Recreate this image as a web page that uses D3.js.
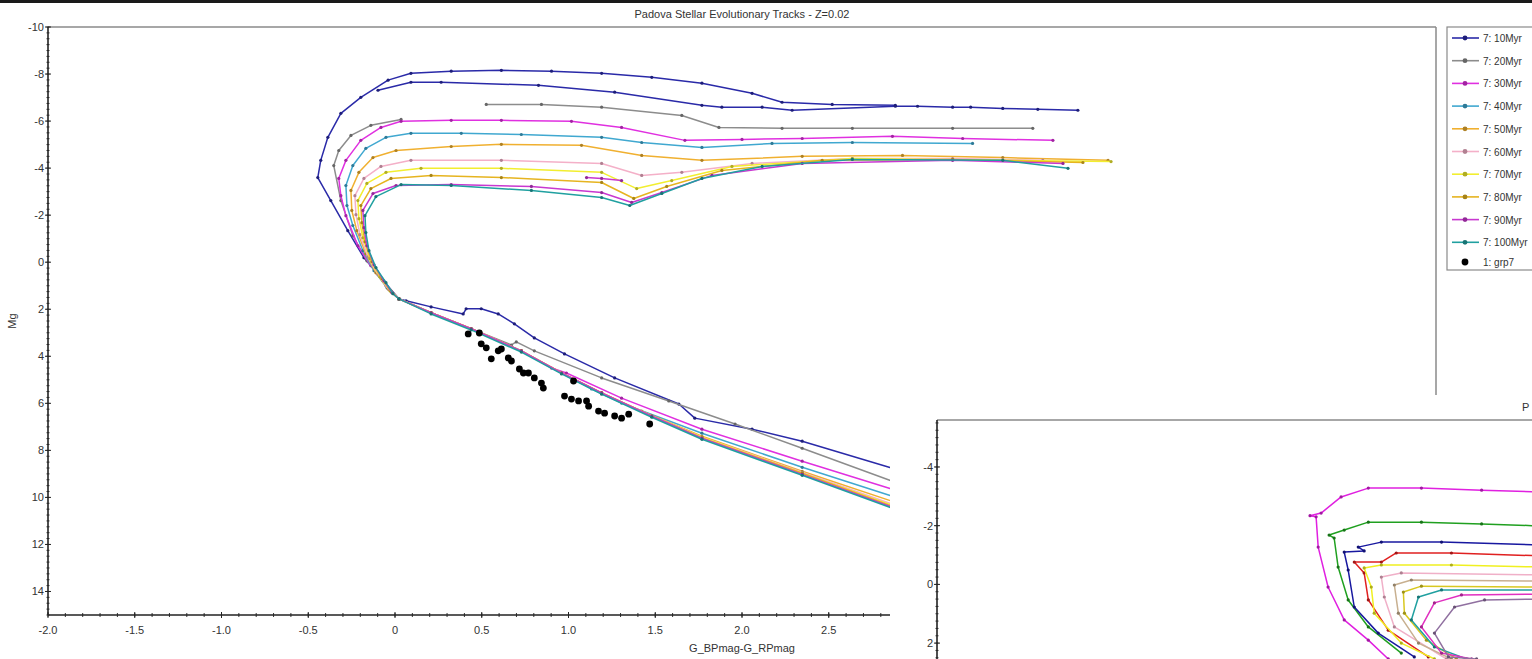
<!DOCTYPE html>
<html><head><meta charset="utf-8">
<script src="https://cdn.jsdelivr.net/npm/d3@7"></script>
<style>
body{margin:0;background:#fff;}
text{font-family:Arial,"Liberation Sans",sans-serif;fill:#333;}
</style>
</head><body>
<svg id="c" width="1532" height="659"></svg>
<script>
// ---------- DATA (main chart: G_BP-G_RP vs Mg) ----------
const seriesNames = ["7: 10Myr","7: 20Myr","7: 30Myr","7: 40Myr","7: 50Myr","7: 60Myr","7: 70Myr","7: 80Myr","7: 90Myr","7: 100Myr"];
const seriesColors = ["#2a2aa8","#8c8c8c","#e030e0","#40a8d0","#f0b030","#f4b0c8","#f2ee30","#e6b420","#c838d0","#20a0a0"];

const track10 = [[3.214,9.40],[2.867,8.76],[2.347,7.61],[2.058,7.10],[1.728,6.63],[1.636,6.03],[1.266,4.92],[0.977,3.90],[0.803,3.22],[0.688,2.62],[0.595,2.20],[0.497,1.98],[0.410,1.98],[0.393,2.20],[0.208,1.90],[0.064,1.64],[0.023,1.56],
 [-0.081,0.66],[-0.179,-0.19],[-0.272,-1.34],[-0.370,-2.62],[-0.445,-3.60],[-0.428,-4.33],[-0.387,-5.31],[-0.312,-6.33],[-0.197,-7.01],[-0.040,-7.74],[0.092,-8.03],[0.324,-8.12],[0.613,-8.16],[0.902,-8.12],[1.191,-8.03],[1.480,-7.86],[1.769,-7.61],[2.058,-7.18],[2.231,-6.80],[2.520,-6.71],[2.884,-6.67],
 null,
 [-0.098,-7.31],[0.092,-7.65],[0.266,-7.65],[0.827,-7.52],[1.266,-7.23],[1.769,-6.67],[1.884,-6.59],[2.116,-6.59],[2.289,-6.46],[2.884,-6.63],[3.012,-6.63],[3.214,-6.59],[3.318,-6.59],[3.503,-6.54],[3.705,-6.50],[3.936,-6.46]];

const track20 = [[3.214,10.17],[2.867,9.31],[2.347,7.91],[1.960,6.88],[1.578,5.90],[1.191,4.92],[0.803,3.77],[0.699,3.39],[0.671,3.52],[0.439,2.83],[0.208,2.15],[0.023,1.56],
 [-0.069,0.79],[-0.162,-0.06],[-0.243,-1.13],[-0.312,-2.62],[-0.353,-4.11],[-0.324,-4.75],[-0.254,-5.39],[-0.139,-5.82],[0.035,-6.07],
 null,
 [0.526,-6.71],[0.844,-6.71],[1.191,-6.59],[1.653,-6.24],[1.867,-5.73],[2.231,-5.69],[2.636,-5.69],[3.214,-5.69],[3.676,-5.69]];

const track30 = [[3.214,10.51],[2.867,9.65],[2.347,8.46],[1.769,7.10],[1.306,5.78],[0.988,4.71],[0.902,4.50],[0.728,3.77],[0.439,2.83],[0.208,2.15],[0.023,1.56],
 [-0.052,1.00],[-0.139,0.15],[-0.214,-0.70],[-0.283,-1.98],[-0.312,-2.83],[-0.324,-3.56],[-0.283,-4.33],[-0.197,-5.18],[-0.081,-5.73],[0.035,-5.99],[0.324,-6.03],[0.613,-6.03],[1.017,-5.99],[1.306,-5.73],[1.671,-5.18],[2.000,-5.22],[2.347,-5.26],[2.867,-5.35],[3.272,-5.26],[3.792,-5.18]];

const track40 = [[3.214,10.68],[2.867,9.95],[2.347,8.72],[1.769,7.27],[1.306,5.99],[1.133,5.39],[0.960,4.71],[0.728,3.77],[0.439,2.83],[0.208,2.15],[0.023,1.56],
 [-0.046,1.09],[-0.121,0.36],[-0.185,-0.49],[-0.243,-1.56],[-0.277,-2.41],[-0.283,-3.26],[-0.243,-4.11],[-0.168,-4.84],[-0.052,-5.31],[0.092,-5.48],[0.382,-5.48],[0.728,-5.43],[1.191,-5.31],[1.422,-5.09],[1.769,-4.88],[2.173,-5.05],[2.636,-5.09],[3.329,-5.05]];

const track50 = [[3.214,10.81],[2.867,10.17],[2.347,8.89],[1.769,7.40],[1.422,6.33],[1.191,5.56],[0.960,4.71],[0.728,3.77],[0.439,2.83],[0.208,2.15],[0.023,1.56],
 [-0.040,1.13],[-0.110,0.45],[-0.168,-0.36],[-0.220,-1.34],[-0.249,-2.20],[-0.254,-3.05],[-0.208,-3.82],[-0.127,-4.45],[0.006,-4.75],[0.324,-4.92],[0.613,-5.01],[1.075,-4.97],[1.422,-4.54],[1.769,-4.33],[2.347,-4.50],[2.925,-4.54],[3.503,-4.45],[4.110,-4.33]];

const track60 = [[3.214,10.93],[2.867,10.29],[2.347,8.93],[1.769,7.44],[1.480,6.54],[1.191,5.56],[0.960,4.71],[0.728,3.77],[0.439,2.83],[0.208,2.15],[0.023,1.56],
 [-0.035,1.17],[-0.098,0.53],[-0.156,-0.23],[-0.202,-1.17],[-0.225,-2.02],[-0.231,-2.83],[-0.179,-3.56],[-0.081,-4.07],[0.092,-4.33],[0.613,-4.33],[1.191,-4.20],[1.422,-3.69],[1.653,-3.82],[2.058,-4.20],[2.636,-4.41],[3.214,-4.41],[3.734,-4.33]];

const track70 = [[3.214,11.02],[2.867,10.34],[2.347,8.97],[1.769,7.44],[1.480,6.54],[1.191,5.56],[0.960,4.71],[0.728,3.77],[0.439,2.83],[0.208,2.15],[0.023,1.56],
 [-0.029,1.21],[-0.087,0.62],[-0.145,-0.15],[-0.185,-1.04],[-0.208,-1.85],[-0.214,-2.62],[-0.162,-3.35],[-0.052,-3.82],[0.150,-3.99],[0.613,-3.99],[1.191,-3.82],[1.393,-3.13],[1.595,-3.47],[1.942,-4.07],[2.636,-4.41],[3.503,-4.33],[4.127,-4.28]];

const track80 = [[3.214,11.10],[2.867,10.38],[2.347,8.97],[1.769,7.48],[1.480,6.54],[1.191,5.56],[0.960,4.71],[0.728,3.77],[0.439,2.83],[0.208,2.15],[0.023,1.56],
 [-0.023,1.26],[-0.075,0.70],[-0.133,-0.02],[-0.173,-0.87],[-0.191,-1.68],[-0.197,-2.41],[-0.139,-3.13],[-0.023,-3.56],[0.208,-3.69],[0.613,-3.60],[1.191,-3.39],[1.376,-2.71],[1.566,-3.22],[1.884,-3.90],[2.462,-4.33],[3.214,-4.37],[3.965,-4.24]];

const track90 = [[3.214,11.19],[2.867,10.42],[2.347,9.02],[1.769,7.48],[1.480,6.54],[1.191,5.56],[0.960,4.71],[0.728,3.77],[0.439,2.83],[0.208,2.15],[0.023,1.56],
 [-0.017,1.30],[-0.064,0.79],[-0.121,0.11],[-0.162,-0.70],[-0.179,-1.47],[-0.185,-2.20],[-0.127,-2.92],[0.006,-3.26],[0.324,-3.30],[0.786,-3.22],[1.191,-2.96],[1.364,-2.54],[1.538,-2.96],[1.827,-3.69],[2.347,-4.20],[3.214,-4.33],[3.850,-4.20],
 null,
 [1.104,-3.60],[1.191,-3.56],[1.306,-3.47]];

const track100 = [[3.214,11.28],[2.867,10.46],[2.347,9.06],[1.769,7.53],[1.480,6.59],[1.191,5.61],[0.960,4.75],[0.728,3.82],[0.439,2.88],[0.208,2.20],[0.023,1.56],
 [-0.012,1.34],[-0.052,0.87],[-0.110,0.23],[-0.150,-0.49],[-0.168,-1.26],[-0.173,-1.98],[-0.110,-2.79],[0.035,-3.30],[0.324,-3.26],[0.786,-3.05],[1.191,-2.75],[1.353,-2.41],[1.538,-2.92],[1.769,-3.56],[2.116,-4.07],[2.636,-4.37],[3.503,-4.33],[3.879,-3.99]];

const seriesData = [track10,track20,track30,track40,track50,track60,track70,track80,track90,track100];

const grp7Name = "1: grp7";
const grp7 = [[0.422,3.05],[0.486,3.01],[0.497,3.47],[0.526,3.64],[0.555,4.11],[0.595,3.77],[0.613,3.69],[0.653,4.07],[0.671,4.20],[0.717,4.54],[0.740,4.71],[0.769,4.71],[0.803,4.92],[0.844,5.14],[0.855,5.35],[1.029,5.05],[0.977,5.69],[1.017,5.82],[1.058,5.90],[1.104,5.90],[1.116,6.12],[1.173,6.33],[1.208,6.42],[1.266,6.54],[1.306,6.63],[1.347,6.46],[1.468,6.88]];

const xTicks = [-2,-1.5,-1,-0.5,0,0.5,1,1.5,2,2.5,3,3.5,4,4.5,5,5.5,6];
const yTicks = [-10,-8,-6,-4,-2,0,2,4,6,8,10,12,14];
const titleText = "Padova Stellar Evolutionary Tracks - Z=0.02";
const xTitle = "G_BPmag-G_RPmag";
const yTitle = "Mg";

// ---------- DATA (overlapping second window) ----------
const insetColors = ["#e020e0","#20a020","#1818a0","#e02020","#f0f020","#f0b0c8","#c8b090","#d8c820","#20a0a0","#e030c0","#9070a0"];
const insetA = [[0.601,2.54],[0.486,1.90],[0.347,1.21],[0.254,0.09],[0.197,-1.27],[0.185,-2.30],[0.150,-2.34],[0.214,-2.43],[0.329,-2.98],[0.486,-3.28],[0.792,-3.28],[1.139,-3.21],[1.486,-3.15]];
const insetB = [[0.676,2.34],[0.486,1.45],[0.370,0.53],[0.312,-0.59],[0.289,-1.58],[0.260,-1.68],[0.347,-1.85],[0.486,-2.12],[0.792,-2.12],[1.139,-2.06],[1.486,-1.99]];
const insetC = [[0.751,2.47],[0.543,1.66],[0.405,0.77],[0.370,-0.49],[0.347,-1.10],[0.462,-1.14],[0.428,-1.27],[0.561,-1.44],[0.908,-1.44],[1.486,-1.34]];
const insetD = [[0.832,2.47],[0.601,1.56],[0.486,0.53],[0.462,-0.39],[0.405,-0.76],[0.561,-0.76],[0.647,-1.07],[0.965,-1.07],[1.486,-0.97]];
const insetE = [[0.867,2.54],[0.676,2.00],[0.520,0.98],[0.503,0.09],[0.462,-0.56],[0.561,-0.66],[0.965,-0.66],[1.486,-0.59]];
const insetF = [[0.936,2.54],[0.636,1.45],[0.578,0.43],[0.561,-0.25],[0.676,-0.39],[1.486,-0.32]];
const insetG = [[0.965,2.54],[0.775,2.00],[0.659,0.98],[0.636,0.02],[0.734,-0.15],[1.486,-0.11]];
const insetH = [[0.994,2.54],[0.821,1.90],[0.694,0.98],[0.688,0.26],[0.792,0.06],[1.486,0.09]];
const insetI = [[1.052,2.54],[0.867,2.13],[0.734,1.21],[0.775,0.43],[0.908,0.19],[1.486,0.19]];
const insetJ = [[1.081,2.54],[0.908,2.34],[0.792,1.45],[0.867,0.63],[1.023,0.36],[1.486,0.33]];
const insetK = [[1.110,2.54],[0.948,2.47],[0.867,1.66],[0.983,0.77],[1.156,0.53],[1.486,0.50]];
const insetData = [insetA,insetB,insetC,insetD,insetE,insetF,insetG,insetH,insetI,insetJ,insetK];
const insetYTicks = [-4,-2,0,2];
const insetTitleVisible = "P";   // only the first letter of the second window's title is visible

// ---------- DRAWING ----------
const svg = d3.select("#c");
svg.append("rect").attr("width",1532).attr("height",659).attr("fill","#fff");
svg.append("rect").attr("width",1532).attr("height",3).attr("fill","#1a1a1a");

const fmtY = d => String(d);
const fmtX = d => d===0 ? "0" : d.toFixed(1);

function drawPanel(g, cfg){
  const {x, y, left, top, right, bottom, data, colors, yTickVals, xTickVals, clipId} = cfg;
  g.append("clipPath").attr("id",clipId).append("rect")
    .attr("x",left).attr("y",top).attr("width",right-left).attr("height",bottom-top);
  g.append("line").attr("x1",left).attr("x2",right).attr("y1",top).attr("y2",top).attr("stroke","#8a8a8a").attr("stroke-width",1.5);
  g.append("line").attr("x1",right).attr("x2",right).attr("y1",top).attr("y2",bottom).attr("stroke","#8a8a8a").attr("stroke-width",1.5);
  const plot = g.append("g").attr("clip-path",`url(#${clipId})`);
  const line = d3.line().defined(d=>d!==null).x(d=>x(d[0])).y(d=>y(d[1]));
  data.forEach((arr,i)=>{
    const c = colors[i];
    plot.append("path").datum(arr).attr("d",line).attr("fill","none")
      .attr("stroke",c).attr("stroke-width",1.5).attr("stroke-linejoin","round");
    plot.selectAll(null).data(arr.filter(d=>d!==null)).join("circle")
      .attr("cx",d=>x(d[0])).attr("cy",d=>y(d[1])).attr("r",1.6)
      .attr("fill",d3.color(c).darker(0.9));
  });
  const [y0,y1] = y.domain();
  const minorY = d3.range(Math.ceil(y0*4)/4, y1+0.001, 0.25);
  g.append("g").selectAll("line").data(minorY.filter(v=>y(v)>=top && y(v)<=bottom)).join("line")
    .attr("x1",left-1.5).attr("x2",left+1.5).attr("y1",d=>y(d)).attr("y2",d=>y(d)).attr("stroke","#333").attr("stroke-width",1);
  g.append("g").selectAll("line").data(yTickVals).join("line")
    .attr("x1",left-3).attr("x2",left+3).attr("y1",d=>y(d)).attr("y2",d=>y(d)).attr("stroke","#222").attr("stroke-width",1);
  g.append("g").selectAll("text").data(yTickVals).join("text")
    .attr("x",left-4).attr("y",d=>y(d)+4).attr("text-anchor","end").attr("font-size",11).text(fmtY);
  g.append("line").attr("x1",left).attr("x2",left).attr("y1",top).attr("y2",bottom).attr("stroke","#222").attr("stroke-width",1.6);
  if (xTickVals){
    const [x0,x1] = x.domain();
    const minorX = d3.range(x0, x1+0.001, 0.1);
    g.append("g").selectAll("line").data(minorX).join("line")
      .attr("x1",d=>x(d)).attr("x2",d=>x(d)).attr("y1",bottom-2).attr("y2",bottom+2).attr("stroke","#333").attr("stroke-width",1);
    g.append("g").selectAll("line").data(xTickVals).join("line")
      .attr("x1",d=>x(d)).attr("x2",d=>x(d)).attr("y1",bottom-3).attr("y2",bottom+3).attr("stroke","#222").attr("stroke-width",1);
    g.append("g").selectAll("text").data(xTickVals).join("text")
      .attr("x",d=>x(d)).attr("y",bottom+19).attr("text-anchor","middle").attr("font-size",11).text(fmtX);
    g.append("line").attr("x1",left).attr("x2",right).attr("y1",bottom).attr("y2",bottom).attr("stroke","#222").attr("stroke-width",1.6);
  }
}

// main panel
const L=48, T=27, R=1436, B=615;
const x = d3.scaleLinear([-2,6],[L,R]);
const y = d3.scaleLinear([-10,15],[T,B]);
const main = svg.append("g");
drawPanel(main,{x,y,left:L,top:T,right:R,bottom:B,data:seriesData,colors:seriesColors,yTickVals:yTicks,xTickVals:xTicks,clipId:"clipMain"});
main.append("g").attr("clip-path","url(#clipMain)").selectAll("circle").data(grp7).join("circle")
  .attr("cx",d=>x(d[0])).attr("cy",d=>y(d[1])).attr("r",3.4).attr("fill","#000");
main.append("text").attr("x",(L+R)/2).attr("y",18).attr("text-anchor","middle").attr("font-size",11).text(titleText);
main.append("text").attr("x",(L+R)/2).attr("y",652).attr("text-anchor","middle").attr("font-size",11).text(xTitle);
main.append("text").attr("transform",`translate(16,${(T+B)/2}) rotate(-90)`).attr("text-anchor","middle").attr("font-size",11).text(yTitle);

// legend
const lg = main.append("g");
lg.append("rect").attr("x",1447).attr("y",27).attr("width",100).attr("height",243).attr("fill","#fff").attr("stroke","#8a8a8a").attr("stroke-width",1.2);
const legendNames = seriesNames.concat([grp7Name]);
legendNames.forEach((n,i)=>{
  const yy = i<10 ? 38 + i*22.7 : 262;
  if (i<10){
    const c = seriesColors[i];
    lg.append("line").attr("x1",1452).attr("x2",1479).attr("y1",yy).attr("y2",yy).attr("stroke",c).attr("stroke-width",1.6);
    lg.append("circle").attr("cx",1465).attr("cy",yy).attr("r",2.4).attr("fill",d3.color(c).darker(0.9));
  } else {
    lg.append("circle").attr("cx",1465).attr("cy",yy).attr("r",3.4).attr("fill","#000");
  }
  lg.append("text").attr("x",1483).attr("y",yy+4).attr("font-size",10).text(n);
});

// overlapping second window
const win = svg.append("g");
win.append("rect").attr("x",890).attr("y",395).attr("width",700).attr("height",300).attr("fill","#fff");
const iL=937, iT=420, iR=2325, iB=1008;
const xi = d3.scaleLinear([-2,6],[iL,iR]);
const yi = d3.scaleLinear([-5.6,14.43],[iT,iB]);
drawPanel(win,{x:xi,y:yi,left:iL,top:iT,right:iR,bottom:iB,data:insetData,colors:insetColors,yTickVals:insetYTicks,xTickVals:null,clipId:"clipInset"});
win.append("text").attr("x",1522).attr("y",411).attr("font-size",11).text(insetTitleVisible);
</script>
</body></html>
